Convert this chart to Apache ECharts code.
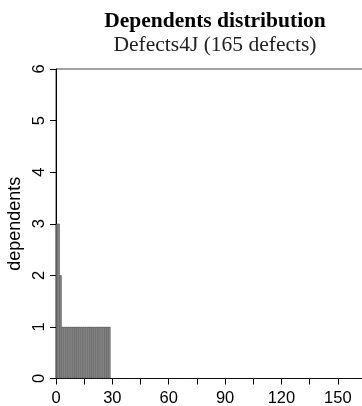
<!DOCTYPE html>
<html>
<head>
<meta charset="utf-8">
<script src="https://cdn.jsdelivr.net/npm/echarts@6/dist/echarts.min.js"></script>
<style>
html,body{margin:0;padding:0;background:#fff;}
#chart{width:362px;height:406px;}
</style>
</head>
<body>
<div id="chart"></div>
<script>
// Dependents per defect, sorted descending (165 defects)
var dependents = [
  3,3,2,1,1,1,1,1,1,1,1,1,1,1,1,1,1,1,1,1,1,1,1,1,1,1,1,1,1,0,
  0,0,0,0,0,0,0,0,0,0,0,0,0,0,0,0,0,0,0,0,0,0,0,0,0,0,0,0,0,0,
  0,0,0,0,0,0,0,0,0,0,0,0,0,0,0,0,0,0,0,0,0,0,0,0,0,0,0,0,0,0,
  0,0,0,0,0,0,0,0,0,0,0,0,0,0,0,0,0,0,0,0,0,0,0,0,0,0,0,0,0,0,
  0,0,0,0,0,0,0,0,0,0,0,0,0,0,0,0,0,0,0,0,0,0,0,0,0,0,0,0,0,0,
  0,0,0,0,0,0,0,0,0,0,0,0,0,0,0
];
var defectIndex = dependents.map(function(_, i){ return String(i + 1); });
var xTickLabels = [0, 30, 60, 90, 120, 150];
var yTickLabels = [0, 1, 2, 3, 4, 5, 6];
var titleText = 'Dependents distribution';
var subtitleText = 'Defects4J (165 defects)';
var yName = 'dependents';

var chart = echarts.init(document.getElementById('chart'), null, {renderer: 'canvas'});
var sans = 'Liberation Sans, Arial, sans-serif';
var serif = 'Liberation Serif, Times New Roman, serif';
chart.setOption({
  animation: false,
  backgroundColor: '#fff',
  title: {
    text: titleText,
    subtext: subtitleText,
    left: 210, textAlign: 'center', top: 5,
    itemGap: 2,
    textStyle: {fontFamily: serif, fontWeight: 'bold', fontSize: 21.5, color: '#000'},
    subtextStyle: {fontFamily: serif, fontWeight: 'normal', fontSize: 21.5, color: '#222'}
  },
  grid: {left: 56, top: 69, right: -4, bottom: 27.5, containLabel: false, outerBoundsMode: 'none',
    show: true, borderColor: '#444', borderWidth: 1, backgroundColor: 'transparent'},
  xAxis: [
    {type: 'category', data: defectIndex, show: false, boundaryGap: true},
    {type: 'value', min: 0, max: 165, interval: 15, position: 'bottom',
     axisLine: {show: true, onZero: false, lineStyle: {color: '#000', width: 1}},
     axisTick: {show: true, length: 6, lineStyle: {color: '#000'}},
     splitLine: {show: false},
     axisLabel: {margin: 11, fontFamily: sans, fontSize: 16.5, color: '#000', showMaxLabel: false,
       formatter: function(v){ return xTickLabels.indexOf(v) >= 0 ? String(v) : ''; }}}
  ],
  yAxis: {
    type: 'value', min: 0, max: 6, interval: 1,
    name: yName, nameLocation: 'middle', nameGap: 32, nameRotate: 90, nameMoveOverlap: false,
    nameTextStyle: {fontFamily: sans, fontSize: 18, color: '#000'},
    axisLine: {show: true, lineStyle: {color: '#000', width: 1}},
    axisTick: {show: true, length: 6, lineStyle: {color: '#000'}},
    splitLine: {show: false},
    axisLabel: {rotate: 90, margin: 8, fontFamily: sans, fontSize: 16.5, color: '#000',
      formatter: function(v){ return yTickLabels.indexOf(v) >= 0 ? String(v) : ''; }}
  },
  series: [{
    type: 'bar', xAxisIndex: 0, data: dependents,
    barCategoryGap: '0%', barGap: '0%',
    itemStyle: {color: '#9c9c9c', borderColor: '#1a1a1a', borderWidth: 0.4}
  }]
});
</script>
</body>
</html>
